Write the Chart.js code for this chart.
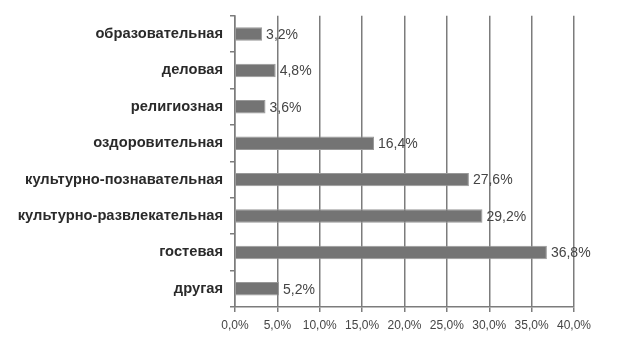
<!DOCTYPE html>
<html>
<head>
<meta charset="utf-8">
<script src="https://cdn.jsdelivr.net/npm/chart.js@4"></script>
<style>
  html, body { margin: 0; padding: 0; background: #fff; }
  #wrap { width: 618px; height: 337px; }
</style>
</head>
<body>
<div id="wrap"><canvas id="tourChart" width="618" height="337"></canvas></div>
<script>
// types of tourism, share of respondents
const categories = ['образовательная', 'деловая', 'религиозная', 'оздоровительная',
  'культурно-познавательная', 'культурно-развлекательная', 'гостевая', 'другая'];
const shares = [3.2, 4.8, 3.6, 16.4, 27.6, 29.2, 36.8, 5.2];
const xTicks = [0, 5, 10, 15, 20, 25, 30, 35, 40];

const fmt = v => v.toFixed(1).replace('.', ',') + '%';

// value labels to the right of each bar
const valueLabels = {
  id: 'valueLabels',
  afterDatasetsDraw(chart) {
    const ctx = chart.ctx;
    const meta = chart.getDatasetMeta(0);
    ctx.save();
    ctx.font = '14px "Liberation Sans", Arial, sans-serif';
    ctx.fillStyle = '#454545';
    ctx.textBaseline = 'middle';
    ctx.textAlign = 'left';
    meta.data.forEach((bar, i) => {
      ctx.fillText(fmt(shares[i]), bar.x + 4, bar.y + 1);
    });
    ctx.restore();
  }
};

const ctx = document.getElementById('tourChart').getContext('2d');

new Chart(ctx, {
  type: 'bar',
  data: {
    labels: categories,
    datasets: [{
      data: shares,
      backgroundColor: '#747474',
      borderColor: '#999999',
      borderWidth: 1,
      barPercentage: 0.37,
      categoryPercentage: 1.0
    }]
  },
  options: {
    indexAxis: 'y',
    responsive: false,
    animation: false,
    devicePixelRatio: 1,
    layout: { padding: { left: 0, right: 44, top: 15, bottom: 0 } },
    plugins: {
      legend: { display: false },
      tooltip: { enabled: false }
    },
    scales: {
      x: {
        min: 0,
        max: 40,
        afterBuildTicks: scale => { scale.ticks = xTicks.map(v => ({ value: v })); },
        afterFit: scale => { scale.height = 30; },
        grid: {
          color: '#7c7c7c',
          lineWidth: 1.5,
          tickLength: 5,
          drawOnChartArea: true
        },
        border: { display: true, color: '#7c7c7c', width: 1.5 },
        ticks: {
          callback: v => fmt(v),
          color: '#454545',
          font: { family: '"Liberation Sans", Arial, sans-serif', size: 12 },
          padding: 6,
          maxRotation: 0
        }
      },
      y: {
        afterFit: scale => { scale.width = 235; },
        grid: {
          offset: true,
          drawOnChartArea: false,
          color: '#7c7c7c',
          lineWidth: 1.5,
          tickLength: 5
        },
        border: { display: true, color: '#7c7c7c', width: 1.5 },
        ticks: {
          color: '#2a2a2a',
          font: { family: '"Liberation Sans", Arial, sans-serif', size: 14.7, weight: 'bold' },
          padding: 7
        }
      }
    }
  },
  plugins: [valueLabels]
});
</script>
</body>
</html>
